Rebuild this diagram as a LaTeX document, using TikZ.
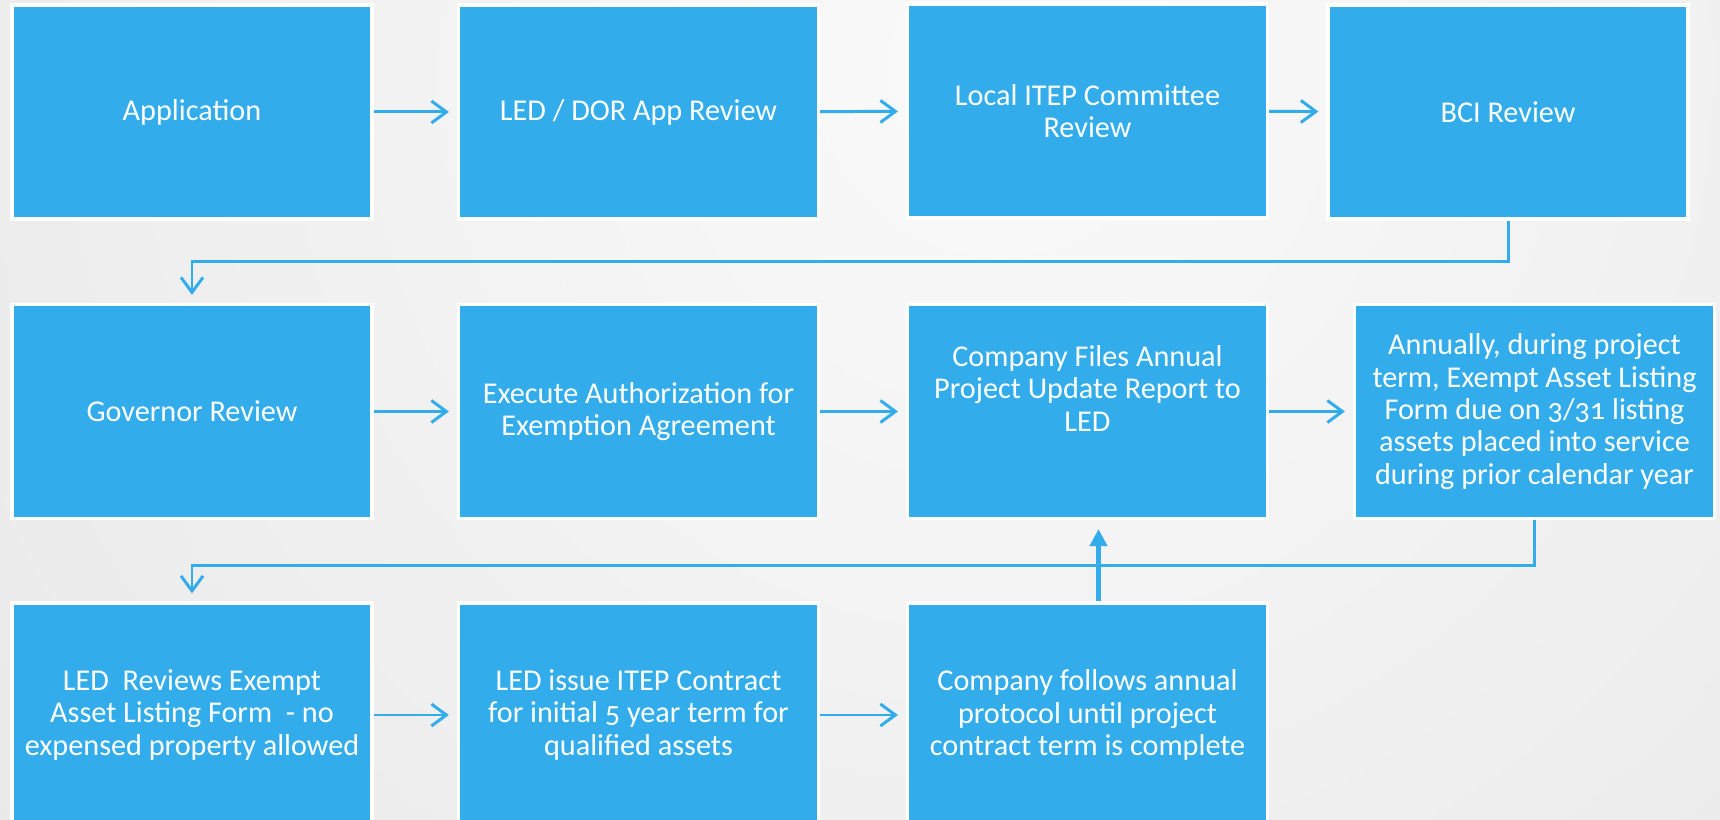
\documentclass[tikz,border=0pt]{standalone}
\usepackage{fontspec}
\setmainfont{Carlito}[Numbers=OldStyle]
\usetikzlibrary{arrows.meta}

\definecolor{stageblue}{HTML}{32ACEA}
\definecolor{bgin}{HTML}{FAFAFA}
\definecolor{bgout}{HTML}{DADADA}

\tikzset{
  stage/.style={draw=white, line width=0.9pt, fill=stageblue, text=white,
    minimum width=3.6cm, minimum height=2.14cm, inner sep=2pt, align=center,
    font=\fontsize{8.6}{9.2}\selectfont},
  flow/.style={draw=stageblue, line width=0.85pt, shorten >=0.08cm,
    -{Straight Barb[length=1.5mm,width=2.2mm]}},
  back/.style={draw=stageblue, line width=1.2pt, shorten >=0.09cm,
    -{Triangle[length=1.7mm,width=1.7mm]}}
}

\begin{document}
\begin{tikzpicture}
\useasboundingbox (0,0) rectangle (17.2,8.2);
% grey backdrop, lighter near the top
\begin{scope}
\clip (0,0) rectangle (17.2,8.2);
\shade[inner color=bgin, outer color=bgout] (-14,-16.5) rectangle (34,31.5);
\end{scope}

% first row
\node[stage](app) at (1.92,7.08){Application};
\node[stage](dor) at (6.385,7.08){LED / DOR App Review};
\node[stage](loc) at (10.875,7.09){Local ITEP Committee\\Review};
\node[stage](bci) at (15.08,7.08){BCI Review};
\draw[flow] (app) -- (dor);
\draw[flow] (dor) -- (loc);
\draw[flow] (loc) -- (bci);

% second row
\node[stage](gov) at (1.92,4.085){Governor Review};
\node[stage](exe) at (6.385,4.085){Execute Authorization for\\Exemption Agreement};
\node[stage](upd) at (10.875,4.085){Company Files Annual\\Project Update Report to\\LED\\[4pt]\mbox{}};
\node[stage](ann) at (15.345,4.085){Annually, during project\\term, Exempt Asset Listing\\Form due on 3/31 listing\\assets placed into service\\during prior calendar year};
\draw[flow] (bci.south) -- ++(0,-0.41) -| (gov.north);
\draw[flow] (gov) -- (exe);
\draw[flow] (exe) -- (upd);
\draw[flow] (upd) -- (ann);

% third row
\node[stage, minimum height=2.24cm](rev) at (1.92,1.05){LED~ Reviews Exempt\\Asset Listing Form~ - no\\expensed property allowed};
\node[stage, minimum height=2.24cm](iss) at (6.385,1.05){LED issue ITEP Contract\\for initial 5 year term for\\qualified assets};
\node[stage, minimum height=2.24cm](fol) at (10.875,1.05){Company follows annual\\protocol until project\\contract term is complete};
\draw[flow] (ann.south) -- ++(0,-0.45) -| (rev.north);
\draw[flow] (rev) -- (iss);
\draw[flow] (iss) -- (fol);
\draw[back] ([xshift=1.1mm]fol.north) -- ([xshift=1.1mm]upd.south);
\end{tikzpicture}
\end{document}
